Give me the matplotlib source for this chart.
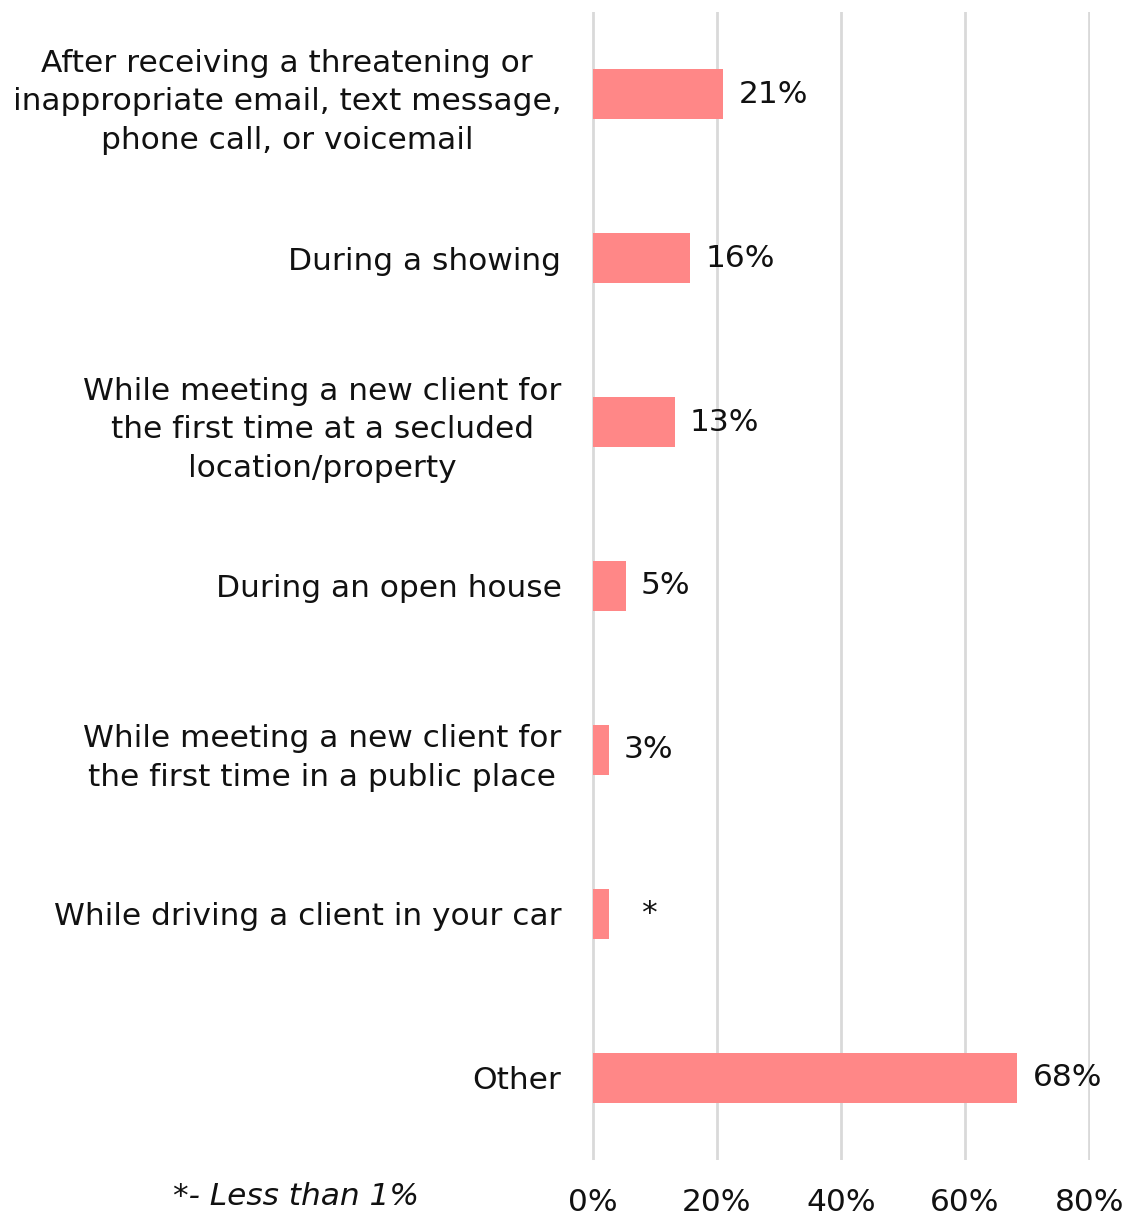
import matplotlib
matplotlib.use("Agg")
import matplotlib.pyplot as plt

categories = [
    "After receiving a threatening or\ninappropriate email, text message,\nphone call, or voicemail",
    "During a showing",
    "While meeting a new client for\nthe first time at a secluded\nlocation/property",
    "During an open house",
    "While meeting a new client for\nthe first time in a public place",
    "While driving a client in your car",
    "Other",
]
values = [21.0, 15.7, 13.2, 5.3, 2.6, 2.6, 68.4]
value_labels = ["21%", "16%", "13%", "5%", "3%", "*", "68%"]
xticks = [0, 20, 40, 60, 80]
xtick_labels = ["0%", "20%", "40%", "60%", "80%"]
footnote = "*- Less than 1%"

plt.rcParams['font.family'] = ['DejaVu Sans']
FS = 22.5
TXT = "#111111"

fig = plt.figure(figsize=(11.31, 12.15), dpi=100)
ax = fig.add_axes([0.5234, 0.0453, 0.4403, 0.9448])

ypos = list(range(len(categories)))
ax.barh(ypos, values, height=0.31, color="#FF8787", zorder=3)
ax.set_ylim(len(categories) - 0.5, -0.5)
ax.set_xlim(-0.12, 80.12)

for y, v, lab in zip(ypos, values, value_labels):
    off = 23 if lab == "*" else 11
    ax.annotate(lab, xy=(v, y), xytext=(off, 0), textcoords="offset points",
                ha="left", va="center", fontsize=FS, color=TXT)

ax.set_yticks(ypos)
ax.set_yticklabels(categories, fontsize=FS, multialignment="center", color=TXT,
                   linespacing=1.42)
ax.set_xticks(xticks)
ax.set_xticklabels(xtick_labels, fontsize=FS, color=TXT)
ax.tick_params(axis="y", length=0, pad=22)
ax.tick_params(axis="x", length=0, pad=20)
ax.grid(axis="x", color="#d9d9d9", linewidth=2, zorder=0)
ax.set_axisbelow(True)
for s in ax.spines.values():
    s.set_visible(False)

fig.text(0.262, 0.003, footnote, fontsize=FS, style="italic", ha="center", va="bottom",
         color=TXT)

fig.savefig("out.png", dpi=100)
